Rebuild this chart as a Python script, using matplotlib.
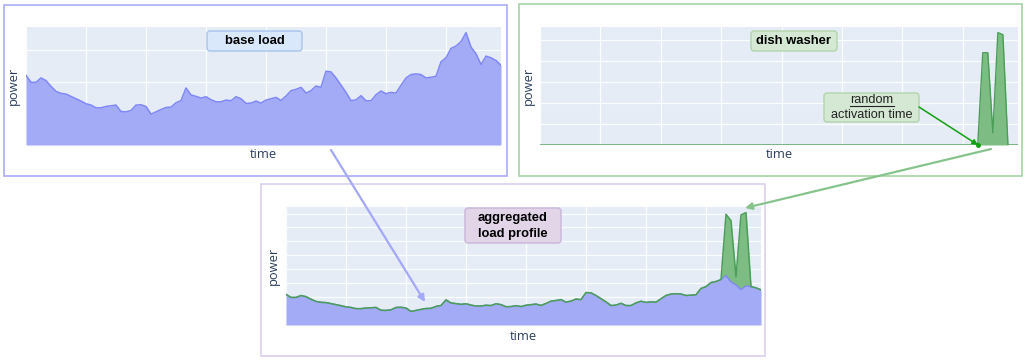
import numpy as np
import matplotlib
matplotlib.use('Agg')
import matplotlib.pyplot as plt
from matplotlib.patches import Rectangle, FancyBboxPatch

# Data (power in W, 96 time steps)
base_load = [1100, 989, 989, 1058, 1016, 925, 846, 814, 804, 767,
             730, 693, 651, 630, 587, 587, 608, 619, 630, 529,
             523, 545, 630, 635, 608, 487, 523, 560, 592, 598,
             666, 700, 900, 790, 767, 741, 762, 714, 682, 682,
             709, 698, 762, 730, 656, 661, 693, 661, 709, 730,
             751, 703, 772, 857, 878, 910, 820, 857, 931, 910,
             1164, 1153, 1058, 945, 830, 698, 714, 778, 698, 698,
             793, 852, 810, 830, 820, 942, 1058, 1111, 1122, 1111,
             1058, 1069, 1085, 1312, 1376, 1524, 1561, 1630, 1773, 1545,
             1439, 1270, 1402, 1376, 1333, 1259]
dish_washer = [0] * 88 + [2200, 2200, 290, 2680, 2630, 0, 0, 0]
labels = ['base load', 'dish washer', 'aggregated\nload profile']

base = np.array(base_load, dtype=float)
dish = np.array(dish_washer, dtype=float)
total = base + dish
t = np.arange(len(base))

W, H = 1026, 360
fig = plt.figure(figsize=(W / 100, H / 100), dpi=100)

BG = '#E5ECF6'
BLUE_LINE, BLUE_FILL = '#7f87f6', '#a3abf7'
GREEN_LINE, GREEN_FILL = '#4a9e55', '#7dbd84'
AXCOL = '#2a3f5f'


def px_axes(x0, y0, x1, y1):
    return fig.add_axes([x0 / W, 1 - y1 / H, (x1 - x0) / W, (y1 - y0) / H])


def style(ax, ymax):
    ax.set_facecolor(BG)
    ax.set_xlim(0, len(t) - 1)
    ax.set_ylim(0, ymax * 1.05)
    ax.set_xticks(range(0, len(t), 12))
    ax.set_yticks(np.arange(500, ymax * 1.05, 500))
    ax.tick_params(length=0, labelbottom=False, labelleft=False)
    ax.grid(color='white', lw=0.9, alpha=0.85)
    ax.set_axisbelow(True)
    for s in ax.spines.values():
        s.set_visible(False)


# base load
ax1 = px_axes(26, 27, 501, 145)
style(ax1, base.max())
ax1.fill_between(t, 0, base, color=BLUE_FILL, lw=0)
ax1.plot(t, base, color=BLUE_LINE, lw=1.1)

# dish washer
ax2 = px_axes(540, 27, 1018, 145)
style(ax2, dish.max())
ax2.fill_between(t, 0, dish, color=GREEN_FILL, lw=0)
ax2.plot(t, dish, color=GREEN_LINE, lw=1)

# aggregated
ax3 = px_axes(286, 207, 761, 325)
style(ax3, total.max())
ax3.fill_between(t, 0, base, color=BLUE_FILL, lw=0)
ax3.fill_between(t, base, total, color=GREEN_FILL, lw=0)
ax3.plot(t, base, color=BLUE_LINE, lw=1)
ax3.plot(t, total, color=GREEN_LINE, lw=1.1)

# overlay in pixel coords for frames, labels and arrows
ov = fig.add_axes([0, 0, 1, 1], zorder=10)
ov.set_xlim(0, W); ov.set_ylim(H, 0)
ov.axis('off')
ov.patch.set_alpha(0)

ov.add_patch(Rectangle((4, 5), 503, 171, fill=False, ec='#a9adf6', lw=1.2))
ov.add_patch(Rectangle((519, 4), 503, 172, fill=False, ec='#a6d3a6', lw=1.2))
ov.add_patch(Rectangle((261, 184), 504, 172, fill=False, ec='#dccfee', lw=1.2))

tfont = dict(family=['Open Sans', 'DejaVu Sans'], fontsize=9.3, color=AXCOL)
for (xt, yt), (xp, yp) in [((263, 155), (13, 86)), ((779, 155), (528, 86)),
                           ((523, 336), (273, 266))]:
    ov.text(xt, yt, 'time', ha='center', va='center', **tfont)
    ov.text(xp, yp, 'power', ha='center', va='center', rotation=90, **tfont)


def label_box(x0, y0, x1, y1, fc, ec, txt):
    ov.add_patch(FancyBboxPatch((x0, y0), x1 - x0, y1 - y0,
                                boxstyle='round,pad=0,rounding_size=3',
                                fc=fc, ec=ec, lw=1))
    ov.text((x0 + x1) / 2, (y0 + y1) / 2 + 0.5, txt, ha='center', va='center',
            family=['Liberation Sans', 'DejaVu Sans'], fontsize=9.4,
            fontweight='bold', color='black', linespacing=1.35)


label_box(207, 31, 302, 51, '#dae8fc', '#a9c2ea', labels[0])
label_box(751, 31, 837, 51, '#d5e8d4', '#b2d4ab', labels[1])
label_box(465, 208, 561, 243, '#e1d5e7', '#c9b5d8', labels[2])

# random activation time note
ov.add_patch(FancyBboxPatch((824, 93), 95, 29,
                            boxstyle='round,pad=0,rounding_size=3',
                            fc='#d5e8d4', ec='#b2d4ab', lw=1))
nfont = dict(family=['Liberation Sans', 'DejaVu Sans'], fontsize=9.2, color='#222222',
             ha='center', va='center')
ov.text(871.5, 100, 'random', **nfont)
ov.plot([849.5, 893.5], [106, 106], color='#222222', lw=0.8)
ov.text(871.5, 115.5, 'activation time', **nfont)
ov.annotate('', xy=(978, 145), xytext=(919, 107),
            arrowprops=dict(arrowstyle='-|>', color='#10a010', lw=1.1,
                            mutation_scale=8, shrinkA=0, shrinkB=0))
ov.plot([978], [145], 'o', color='#10a010', ms=2.5)

# arrows into the aggregate
ov.annotate('', xy=(425, 302), xytext=(331, 150),
            arrowprops=dict(arrowstyle='-|>', color='#a3a8f8', lw=1.6,
                            mutation_scale=10, shrinkA=0, shrinkB=0))
ov.annotate('', xy=(745, 208), xytext=(991, 149),
            arrowprops=dict(arrowstyle='-|>', color='#86c48c', lw=1.6,
                            mutation_scale=10, shrinkA=0, shrinkB=0))

fig.savefig('out.png', dpi=100)
